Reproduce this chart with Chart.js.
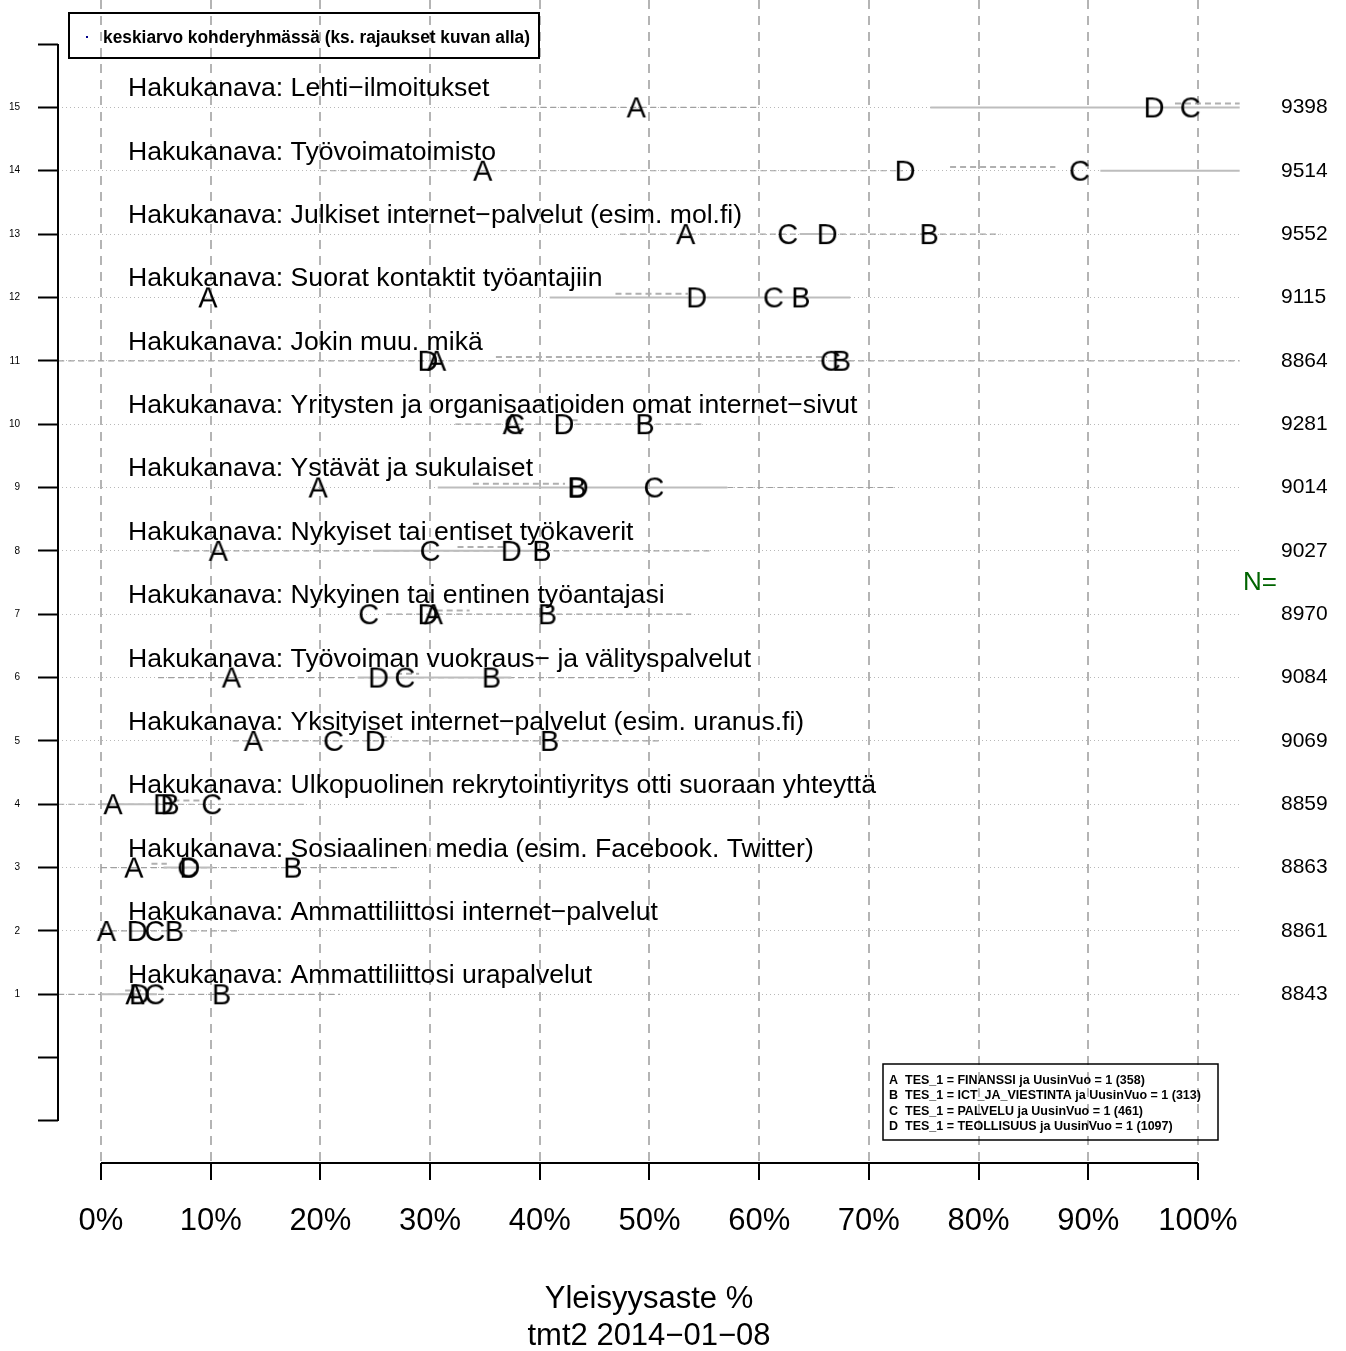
<!DOCTYPE html>
<html lang="fi">
<head>
    <meta charset="UTF-8">
    <title>Hakukanavat</title>
    <script src="https://cdn.jsdelivr.net/npm/chart.js"></script>
    <style>
        body { margin: 0; background: #ffffff; }
        #wrap { position: absolute; left: 0; top: 0; width: 1346px; height: 1351px; }
    </style>
</head>
<body>
    <div id="wrap"><canvas id="chart"></canvas></div>

    <script>
        // rows from top (15) to bottom (1)
        const rows = [15, 14, 13, 12, 11, 10, 9, 8, 7, 6, 5, 4, 3, 2, 1];
        const rowLabels = [
            'Hakukanava: Lehti\u2212ilmoitukset',
            'Hakukanava: Työvoimatoimisto',
            'Hakukanava: Julkiset internet\u2212palvelut (esim. mol.fi)',
            'Hakukanava: Suorat kontaktit työantajiin',
            'Hakukanava: Jokin muu. mikä',
            'Hakukanava: Yritysten ja organisaatioiden omat internet\u2212sivut',
            'Hakukanava: Ystävät ja sukulaiset',
            'Hakukanava: Nykyiset tai entiset työkaverit',
            'Hakukanava: Nykyinen tai entinen työantajasi',
            'Hakukanava: Työvoiman vuokraus\u2212 ja välityspalvelut',
            'Hakukanava: Yksityiset internet\u2212palvelut (esim. uranus.fi)',
            'Hakukanava: Ulkopuolinen rekrytointiyritys otti suoraan yhteyttä',
            'Hakukanava: Sosiaalinen media (esim. Facebook. Twitter)',
            'Hakukanava: Ammattiliittosi internet\u2212palvelut',
            'Hakukanava: Ammattiliittosi urapalvelut'
        ];
        const nValues = [9398, 9514, 9552, 9115, 8864, 9281, 9014, 9027, 8970, 9084, 9069, 8859, 8863, 8861, 8843];

        // group shares in %
        const groupA = [48.8, 34.8, 53.3, 9.75, 30.6, 37.5, 19.8, 10.7, 30.3, 11.9, 13.9, 1.1, 3.0, 0.5, 3.1];
        const groupB = [null, null, 75.5, 63.8, 67.5, 49.6, 43.4, 40.2, 40.7, 35.6, 40.9, 6.3, 17.5, 6.7, 11.0];
        const groupC = [99.3, 89.2, 62.6, 61.3, 66.5, 37.7, 50.4, 30.0, 24.4, 27.7, 21.2, 10.1, 7.9, 4.9, 4.9];
        const groupD = [96.0, 73.3, 66.2, 54.3, 29.8, 42.2, 43.5, 37.4, 29.8, 25.3, 25.0, 5.7, 8.1, 3.3, 3.5];

        // gray range segments
        const solidLo = [75.6, 91.1, 63.7, 40.9, null, null, 30.7, 24.8, null, 23.4, null, 0.1, 5.7, 2.6, 0.0];
        const solidHi = [103.8, 103.8, 66.5, 68.3, null, null, 57.1, 40.2, null, 37.4, null, 5.4, 10.2, 4.2, 5.1];
        const dashLo = [97.9, 77.4, null, 46.9, 36.0, 42.9, 33.9, 32.5, 30.6, 26.9, 25.5, 6.6, 4.6, null, 2.2];
        const dashHi = [103.8, 87.0, null, 53.5, 66.2, 43.8, 42.3, 36.7, 33.6, 29.0, 26.5, 9.0, 6.0, null, 4.2];
        const wideLo = [36.4, 20.0, 47.3, null, -3.9, 32.3, 57.1, 6.6, 26.0, 5.2, 12.0, -3.9, 0.0, 0.0, -3.9];
        const wideHi = [60.1, 73.1, 82.0, null, 103.8, 55.0, 72.5, 55.6, 53.8, 48.7, 51.0, 18.5, 27.0, 12.6, 21.8];

        const xTicks = [0, 10, 20, 30, 40, 50, 60, 70, 80, 90, 100];
        const groupLegend = [
            ['A', 'TES_1 = FINANSSI ja UusinVuo = 1 (358)'],
            ['B', 'TES_1 = ICT_JA_VIESTINTA ja UusinVuo = 1 (313)'],
            ['C', 'TES_1 = PALVELU ja UusinVuo = 1 (461)'],
            ['D', 'TES_1 = TEOLLISUUS ja UusinVuo = 1 (1097)']
        ];

        const FONT = '"Liberation Sans", Arial, Helvetica, sans-serif';

        function letterImage(letter) {
            const c = document.createElement('canvas');
            c.width = 40;
            c.height = 40;
            const g = c.getContext('2d');
            g.font = '29px ' + FONT;
            g.fillStyle = '#000000';
            g.textAlign = 'center';
            g.textBaseline = 'alphabetic';
            g.fillText(letter, 20, 20 + 29 * 0.36);
            return c;
        }

        function letterPoints(values) {
            const pts = [];
            values.forEach((v, i) => {
                if (v !== null) pts.push({ x: v, y: rows[i] });
            });
            return pts;
        }

        function segmentPoints(lo, hi, shift) {
            const pts = [];
            lo.forEach((v, i) => {
                if (v === null) return;
                pts.push({ x: v, y: rows[i] + shift });
                pts.push({ x: hi[i], y: rows[i] + shift });
                pts.push({ x: hi[i], y: null });
            });
            return pts;
        }

        function letterDataset(name, values) {
            return {
                label: name,
                data: letterPoints(values),
                pointStyle: letterImage(name),
                pointRadius: 10,
                showLine: false
            };
        }

        function lineDataset(name, points, color, width, dash) {
            return {
                label: name,
                data: points,
                showLine: true,
                spanGaps: false,
                borderColor: color,
                borderWidth: width,
                borderDash: dash,
                pointRadius: 0
            };
        }

        // no extra padding around the plot area from tick labels
        function noPad(s) {
            s.paddingTop = 0;
            s.paddingBottom = 0;
            s.paddingLeft = 0;
            s.paddingRight = 0;
        }

        const yMin = -1.663;
        const yMax = 16.695;

        const extras = {
            id: 'extras',
            afterDraw(chart) {
                const ctx = chart.ctx;
                const xs = chart.scales.x;
                const ys = chart.scales.y;
                ctx.save();

                // axis lines like in R (only between the end ticks)
                ctx.strokeStyle = '#000000';
                ctx.lineWidth = 2;
                ctx.beginPath();
                ctx.moveTo(xs.getPixelForValue(0), chart.chartArea.bottom);
                ctx.lineTo(xs.getPixelForValue(100), chart.chartArea.bottom);
                ctx.moveTo(chart.chartArea.left, ys.getPixelForValue(16));
                ctx.lineTo(chart.chartArea.left, ys.getPixelForValue(-1));
                ctx.stroke();

                // row titles
                ctx.fillStyle = '#000000';
                ctx.font = '26.6px ' + FONT;
                ctx.textAlign = 'left';
                ctx.textBaseline = 'alphabetic';
                rowLabels.forEach((t, i) => {
                    ctx.fillText(t, xs.getPixelForValue(2.46), ys.getPixelForValue(rows[i] + 0.174));
                });

                // N=
                ctx.fillStyle = '#006400';
                ctx.font = '26px ' + FONT;
                ctx.textAlign = 'center';
                ctx.textBaseline = 'middle';
                ctx.fillText('N=', xs.getPixelForValue(105.65), ys.getPixelForValue(7.5));

                // top legend
                ctx.strokeStyle = '#000000';
                ctx.lineWidth = 2;
                ctx.strokeRect(69, 13, 470, 45);
                ctx.fillStyle = '#00008b';
                ctx.fillRect(86, 36, 2, 2);
                ctx.fillStyle = '#000000';
                ctx.font = 'bold 18px ' + FONT;
                ctx.textAlign = 'left';
                ctx.textBaseline = 'alphabetic';
                ctx.fillText('keskiarvo kohderyhmässä (ks. rajaukset kuvan alla)', 103, 43, 427);

                // group legend
                ctx.lineWidth = 1.5;
                ctx.strokeRect(883, 1064, 335, 76);
                ctx.font = 'bold 12.5px ' + FONT;
                groupLegend.forEach((g, i) => {
                    const y = 1084 + i * 15.3;
                    ctx.fillText(g[0], 889, y);
                    ctx.fillText(g[1], 905, y, 307);
                });

                ctx.restore();
            }
        };

        new Chart(document.getElementById('chart'), {
            type: 'scatter',
            data: {
                datasets: [
                    letterDataset('A', groupA),
                    letterDataset('B', groupB),
                    letterDataset('C', groupC),
                    letterDataset('D', groupD),
                    lineDataset('upper', segmentPoints(dashLo, dashHi, 0.06), '#b0b0b0', 2, [6, 4]),
                    lineDataset('solid', segmentPoints(solidLo, solidHi, 0), '#bdbdbd', 2, []),
                    lineDataset('wide', segmentPoints(wideLo, wideHi, 0), '#a0a0a0', 1.2, [6, 4])
                ]
            },
            options: {
                responsive: true,
                maintainAspectRatio: false,
                animation: false,
                events: [],
                layout: { padding: 0, autoPadding: false },
                plugins: {
                    legend: { display: false },
                    tooltip: { enabled: false }
                },
                scales: {
                    x: {
                        type: 'linear',
                        position: 'bottom',
                        min: -3.92,
                        max: 103.83,
                        afterBuildTicks: s => { s.ticks = xTicks.map(v => ({ value: v })); },
                        afterFit: s => { s.height = 188; noPad(s); },
                        border: { display: false, dash: [9, 7] },
                        grid: {
                            color: '#b4b4b4',
                            lineWidth: 2,
                            tickColor: '#000000',
                            tickLength: 17,
                            tickWidth: 2,
                            tickBorderDash: []
                        },
                        ticks: {
                            color: '#000000',
                            font: { family: FONT, size: 31 },
                            padding: 23,
                            maxRotation: 0,
                            callback: v => v + '%'
                        },
                        title: {
                            display: true,
                            text: ['Yleisyysaste %', 'tmt2 2014\u221201\u221208'],
                            color: '#000000',
                            font: { family: FONT, size: 31, lineHeight: 1.2 },
                            padding: { top: 0, bottom: -4 }
                        }
                    },
                    y: {
                        type: 'linear',
                        position: 'left',
                        min: yMin,
                        max: yMax,
                        afterBuildTicks: s => {
                            const t = [];
                            for (let v = -1; v <= 16; v++) t.push({ value: v });
                            s.ticks = t;
                        },
                        afterFit: s => { s.width = 58; noPad(s); },
                        border: { display: false, dash: [1, 3] },
                        grid: {
                            color: c => (c.tick && c.tick.value >= 1 && c.tick.value <= 15) ? '#b8b8b8' : 'rgba(0,0,0,0)',
                            lineWidth: 1,
                            tickColor: '#000000',
                            tickLength: 20,
                            tickWidth: 2,
                            tickBorderDash: []
                        },
                        ticks: {
                            color: '#000000',
                            font: { family: FONT, size: 10 },
                            padding: 18,
                            callback: v => (v >= 1 && v <= 15) ? String(v) : ''
                        }
                    },
                    y2: {
                        type: 'linear',
                        position: 'right',
                        min: yMin,
                        max: yMax,
                        afterBuildTicks: s => { s.ticks = rows.map(v => ({ value: v })); },
                        afterFit: s => { s.width = 106; noPad(s); },
                        border: { display: false },
                        grid: { display: false, drawTicks: false, drawOnChartArea: false },
                        ticks: {
                            color: '#000000',
                            font: { family: FONT, size: 21 },
                            padding: 41,
                            callback: v => String(nValues[rows.indexOf(v)])
                        }
                    }
                }
            },
            plugins: [extras]
        });
    </script>
</body>
</html>
